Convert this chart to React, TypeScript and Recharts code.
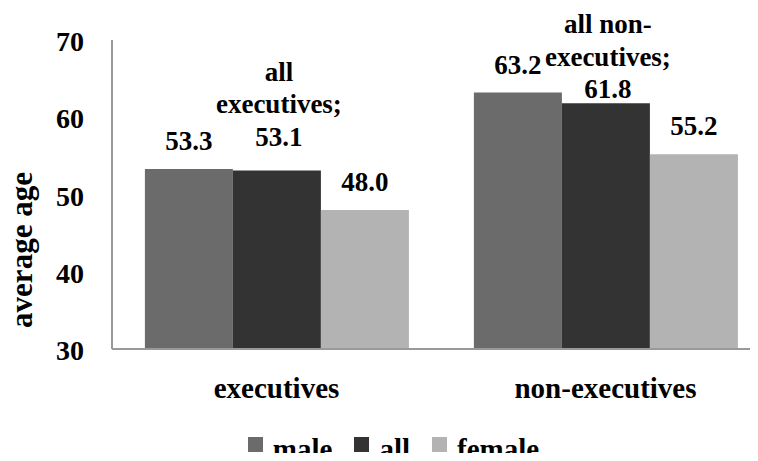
import React from 'react';
import { BarChart, Bar, XAxis, YAxis, Legend, LabelList } from 'recharts';

const categories = ['executives', 'non-executives'];
const male = [53.3, 63.2];
const all = [53.1, 61.8];
const female = [48.0, 55.2];
const yTicks = [30, 40, 50, 60, 70];
const seriesOrder = ['male', 'all', 'female'];
const allLabelLines = [
  ['all', 'executives;', '53.1'],
  ['all non-', 'executives;', '61.8'],
];

const data = categories.map((name, i) => ({
  name,
  male: male[i],
  all: all[i],
  female: female[i],
}));

const FONT = "'Liberation Serif', 'Times New Roman', serif";
const AXIS_GRAY = '#999999';
const textStyle = (size: number): React.CSSProperties => ({
  fontFamily: FONT,
  fontWeight: 'bold',
  fontSize: size,
});

const fontCss = `
html body div#root .chart-box, html body div#root .chart-box * ,
html body div#root .chart-box svg text, html body div#root .chart-box svg tspan {
  font-family: 'Liberation Serif', 'Times New Roman', serif !important;
}
`;

// baseline lift above the bar top for the multi-line "all" labels (hand placed in the original)
const allLift = [25, 5];

const SimpleLabel = (props: any) => {
  const { x, y, width, value } = props;
  return (
    <text x={x + width / 2} y={y - 19} textAnchor="middle" fill="#000" style={textStyle(27)}>
      {Number(value).toFixed(1)}
    </text>
  );
};

const AllLabel = (props: any) => {
  const { x, y, width, index } = props;
  const lines = allLabelLines[index];
  const cx = x + width / 2 + 2;
  const base = y - allLift[index];
  return (
    <text textAnchor="middle" fill="#000" style={textStyle(27)}>
      {lines.map((l, i) => (
        <tspan key={i} x={cx} y={base - (lines.length - 1 - i) * 32.5}>
          {l}
        </tspan>
      ))}
    </text>
  );
};

const XTick = (props: any) => {
  const { x, y, payload } = props;
  return (
    <text x={x} y={y + 47} textAnchor="middle" fill="#000" style={textStyle(29)}>
      {payload.value}
    </text>
  );
};

const YTick = (props: any) => {
  const { x, y, payload } = props;
  return (
    <text x={x - 26} y={y + 11} textAnchor="end" fill="#000" style={textStyle(28)}>
      {payload.value}
    </text>
  );
};

const YLabel = () => (
  <text x={32} y={250} transform="rotate(-90 32 250)" textAnchor="middle" fill="#000" style={textStyle(31)}>
    average age
  </text>
);

const LegendContent = (props: any) => {
  const items = [...(props.payload || [])].sort(
    (a: any, b: any) => seriesOrder.indexOf(a.value) - seriesOrder.indexOf(b.value),
  );
  return (
    <div style={{ display: 'flex', justifyContent: 'center', fontFamily: FONT, fontWeight: 'bold', fontSize: 29, color: '#000', lineHeight: '30px' }}>
      {items.map((it: any) => (
        <span key={it.value} style={{ display: 'flex', alignItems: 'center', marginRight: 22 }}>
          <span style={{ display: 'inline-block', width: 15, height: 15, background: it.color, marginRight: 10, marginTop: -10 }} />
          <span>{it.value}</span>
        </span>
      ))}
    </div>
  );
};

export default function App() {
  return (
    <div className="chart-box" style={{ margin: -8, width: 758, height: 461, overflow: 'hidden', fontFamily: FONT }}>
      <style>{fontCss}</style>
      <BarChart
        width={770}
        height={461}
        data={data}
        margin={{ top: 40, right: 0, left: 0, bottom: 52 }}
        barCategoryGap="10%"
        barGap={0}
      >
        <XAxis
          dataKey="name"
          axisLine={{ stroke: AXIS_GRAY, strokeWidth: 2 }}
          tickLine={false}
          tickSize={0}
          height={60}
          tick={<XTick />}
        />
        <YAxis
          domain={[30, 70]}
          ticks={yTicks}
          width={112}
          axisLine={{ stroke: AXIS_GRAY, strokeWidth: 2 }}
          tickLine={false}
          tickSize={0}
          tick={<YTick />}
          label={<YLabel />}
        />
        <Legend
          verticalAlign="middle"
          align="center"
          content={<LegendContent />}
          wrapperStyle={{ top: 434, left: 0, width: 809 }}
        />
        <Bar dataKey="male" name="male" fill="#6b6b6b" isAnimationActive={false}>
          <LabelList dataKey="male" content={<SimpleLabel />} />
        </Bar>
        <Bar dataKey="all" name="all" fill="#333333" isAnimationActive={false}>
          <LabelList dataKey="all" content={<AllLabel />} />
        </Bar>
        <Bar dataKey="female" name="female" fill="#b3b3b3" isAnimationActive={false}>
          <LabelList dataKey="female" content={<SimpleLabel />} />
        </Bar>
      </BarChart>
    </div>
  );
}
